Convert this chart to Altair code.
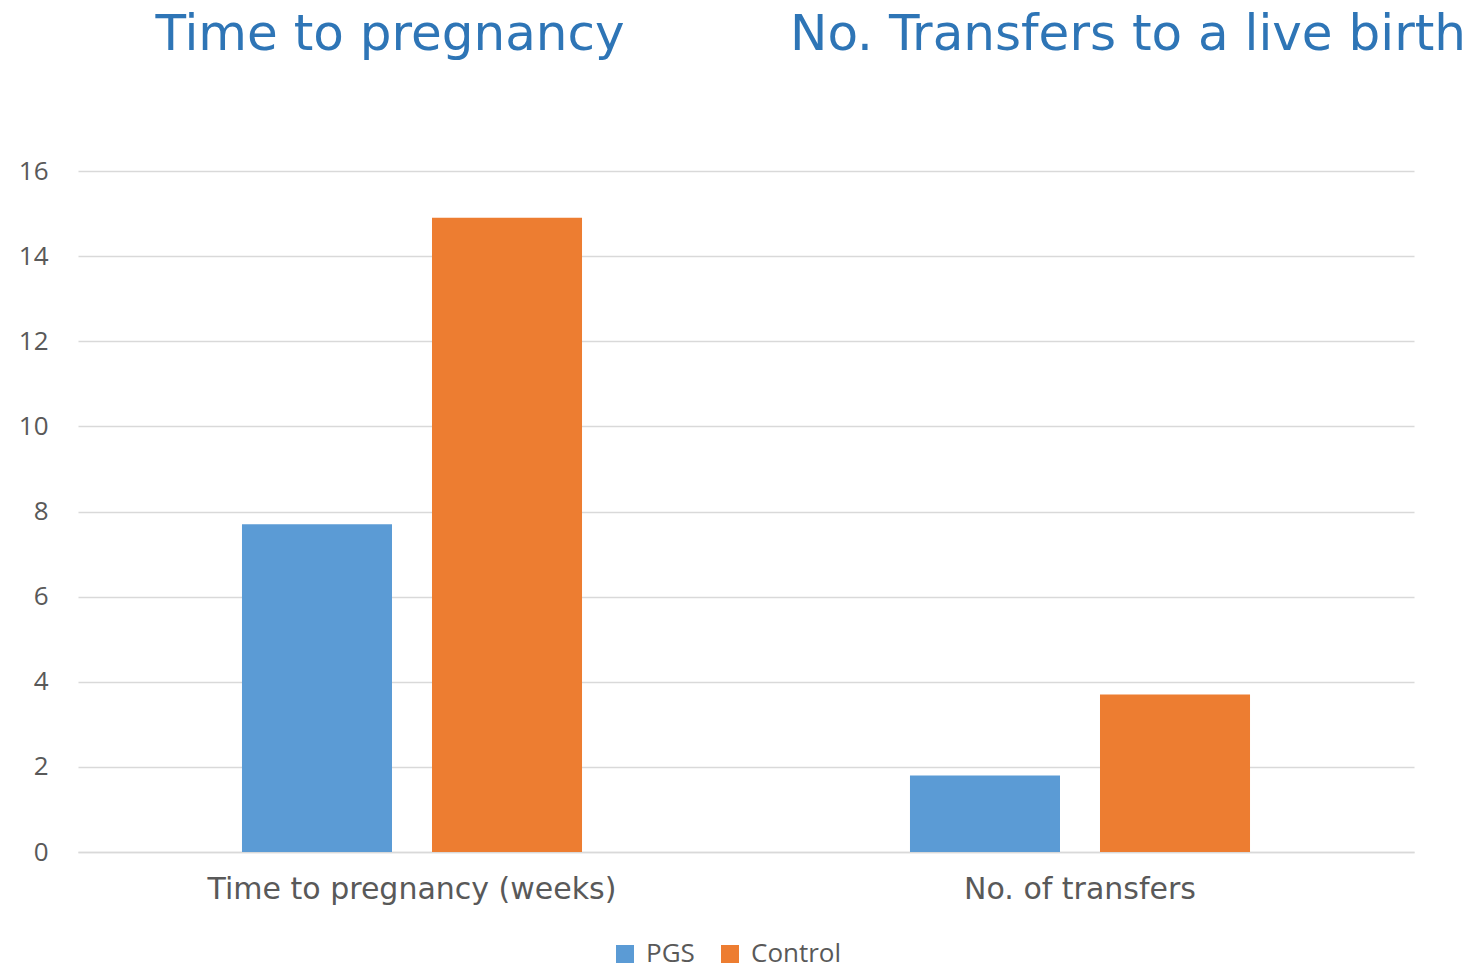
import altair as alt
import pandas as pd

categories = ["Time to pregnancy (weeks)", "No. of transfers"]
groups = ["PGS", "Control"]
pgs_values = [7.7, 1.8]
control_values = [14.9, 3.7]
titles = ["Time to pregnancy", "No. Transfers to a live birth"]
y_ticks = [0, 2, 4, 6, 8, 10, 12, 14, 16]

rows = []
for i, c in enumerate(categories):
    rows.append({"category": c, "group": "PGS", "value": pgs_values[i]})
    rows.append({"category": c, "group": "Control", "value": control_values[i]})
df = pd.DataFrame(rows)

W, H = 1336, 681
FONT = "Open Sans"
TFONT = "DejaVu Sans"
GRAY = "#595959"

bars = alt.Chart(df).mark_bar(strokeWidth=0).encode(
    x=alt.X("category:N", sort=categories, title=None,
            scale=alt.Scale(paddingInner=0, paddingOuter=0),
            axis=alt.Axis(labelAngle=0, labelFontSize=30, labelFont=TFONT, labelColor=GRAY,
                          labelPadding=22, labelLimit=0, ticks=False, domain=True,
                          domainColor="#D9D9D9", domainWidth=1.5, grid=False)),
    xOffset=alt.XOffset("group:N", sort=groups,
                        scale=alt.Scale(paddingInner=0.2105, paddingOuter=0.863)),
    y=alt.Y("value:Q", title=None,
            scale=alt.Scale(domain=[0, 16], nice=False),
            axis=alt.Axis(values=y_ticks, labelFontSize=26, labelFont=FONT, labelColor=GRAY,
                          labelPadding=30, ticks=False, domain=False, gridColor="#D9D9D9",
                          gridWidth=1.5)),
    color=alt.Color("group:N", sort=groups,
                    scale=alt.Scale(domain=groups, range=["#5B9BD5", "#ED7D31"]),
                    legend=alt.Legend(title=None, orient="none", direction="horizontal",
                                      legendX=534, legendY=770, symbolType="square",
                                      symbolSize=324, symbolStrokeWidth=0,
                                      labelFontSize=26, labelFont=FONT, labelColor=GRAY,
                                      labelOffset=8, columnPadding=22)),
)

tdf = pd.DataFrame({"title": titles, "px": [312, 1050]})
title_layer = alt.Chart(tdf).mark_text(
    font=TFONT, fontSize=50, color="#2E75B6", align="center", baseline="alphabetic"
).encode(
    text="title:N",
    x=alt.X("px:Q", scale=alt.Scale(domain=[0, W], range=[0, W]), axis=None),
    y=alt.value(-121),
)

chart = alt.layer(bars, title_layer).resolve_scale(x="independent").properties(
    width=W, height=H,
    background="white",
    autosize=alt.AutoSizeParams(type="none"),
    padding={"left": 78, "top": 171, "right": 60, "bottom": 118},
).configure_view(strokeWidth=0, stroke="transparent")

chart.save("out.html", embed_options={"renderer": "svg", "actions": False})
